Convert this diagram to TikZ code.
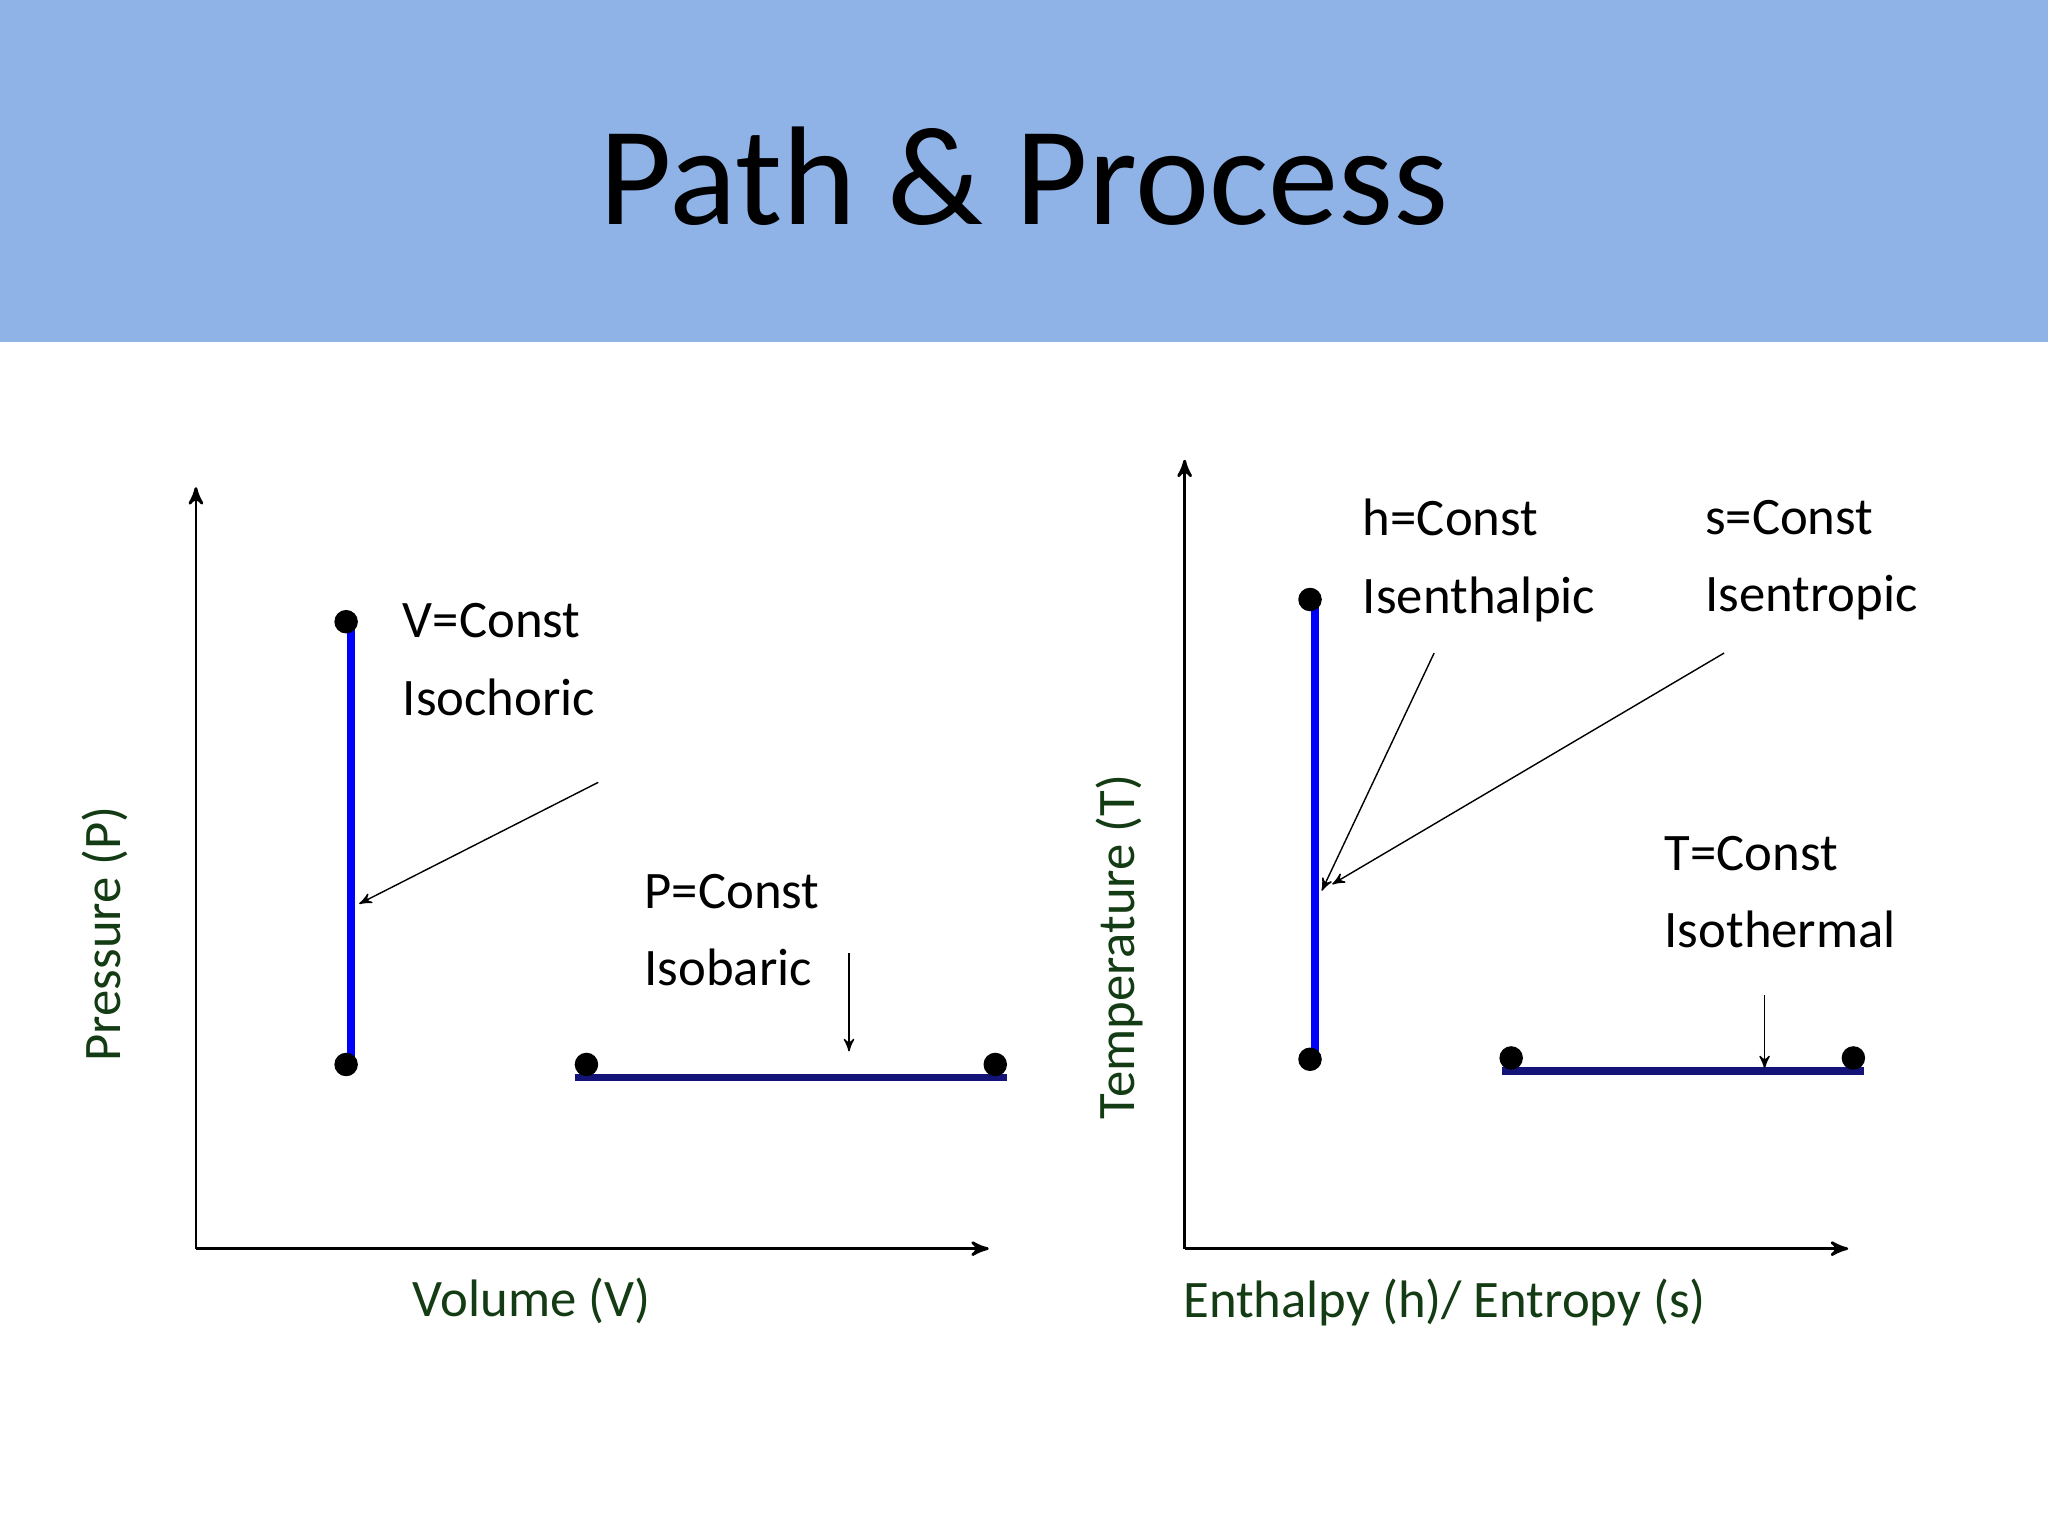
\documentclass[tikz,border=0pt]{standalone}
\usepackage{fontspec}
\setmainfont{Carlito}
\usetikzlibrary{arrows}
\definecolor{band}{RGB}{143,179,230}
\definecolor{lab}{RGB}{20,60,20}
\definecolor{navy}{RGB}{20,20,120}
\tikzstyle{arr}=[->,>=stealth']

\begin{document}
\begin{tikzpicture}[x=0.01306cm,y=-0.01306cm]
  \tikzstyle ax=[arr,thick];
  \tikzstyle pr=[blue,line width=2.2pt];
  \tikzstyle pn=[navy,line width=2.2pt];
  \tikzstyle dot=[fill=black];
  \tikzstyle txt=[anchor=west,align=left,font=\fontsize{15}{22}\selectfont,inner sep=0pt];
  \tikzstyle al=[lab,font=\fontsize{15}{18}\selectfont];
  \def\r{9}

  % frame and title
  \useasboundingbox (0,0) rectangle (1568,1176);
  \fill[band] (0,0) rectangle (1568,262);
  \node (title) at (784,135) {\fontsize{40}{48}\selectfont Path \& Process};

  % left diagram
  \coordinate (o1) at (150,956);
  \coordinate (py) at (150,373);
  \coordinate (vx) at (757,956);
  \draw[ax] (o1) -- (py);
  \draw[ax] (o1) -- (vx);
  \node[al] (vlab) at (407,996) {Volume (V)};
  \node[al,rotate=90] (plab) at (80,715) {Pressure (P)};

  \coordinate (v1) at (269,476);
  \coordinate (v2) at (269,815);
  \draw[pr] (v1) -- (v2);
  \fill[dot] (265,476) circle (\r);
  \fill[dot] (265,815) circle (\r);
  \node[txt] (vc) at (308,505) {V=Const\\Isochoric};
  \coordinate (vs) at (458,599);
  \coordinate (ve) at (275,692);
  \draw[arr] (vs) -- (ve);

  \coordinate (p1) at (440,825);
  \coordinate (p2) at (771,825);
  \draw[pn] (p1) -- (p2);
  \fill[dot] (449,815) circle (\r);
  \fill[dot] (762,815) circle (\r);
  \node[txt] (pc) at (493,712) {P=Const\\Isobaric};
  \coordinate (ps) at (650,730);
  \coordinate (pe) at (650,805);
  \draw[arr] (ps) -- (pe);

  % right diagram
  \coordinate (o2) at (907,956);
  \coordinate (ty) at (907,352);
  \coordinate (hx) at (1415,956);
  \draw[ax] (o2) -- (ty);
  \draw[ax] (o2) -- (hx);
  \node[al] (hlab) at (1106,997) {Enthalpy (h)/ Entropy (s)};
  \node[al,rotate=90] (tlab) at (857,725) {Temperature (T)};

  \coordinate (h1) at (1007,458);
  \coordinate (h2) at (1007,810);
  \draw[pr] (h1) -- (h2);
  \fill[dot] (1003,459) circle (\r);
  \fill[dot] (1003,811) circle (\r);
  \node[txt] (hc) at (1043,429) {h=Const\\Isenthalpic};
  \node[txt] (sc) at (1305,429) {s=Const\\Isentropic};
  \coordinate (hs) at (1098,500);
  \coordinate (he) at (1012,682);
  \coordinate (ss) at (1320,500);
  \coordinate (se) at (1020,677);
  \draw[arr] (hs) -- (he);
  \draw[arr] (ss) -- (se);

  \coordinate (t1) at (1150,820);
  \coordinate (t2) at (1427,820);
  \draw[pn] (t1) -- (t2);
  \fill[dot] (1157,810) circle (\r);
  \fill[dot] (1419,810) circle (\r);
  \node[txt] (tc) at (1274,683) {T=Const\\Isothermal};
  \coordinate (ts) at (1351,762);
  \coordinate (te) at (1351,818);
  \draw[arr] (ts) -- (te);
\end{tikzpicture}
\end{document}
